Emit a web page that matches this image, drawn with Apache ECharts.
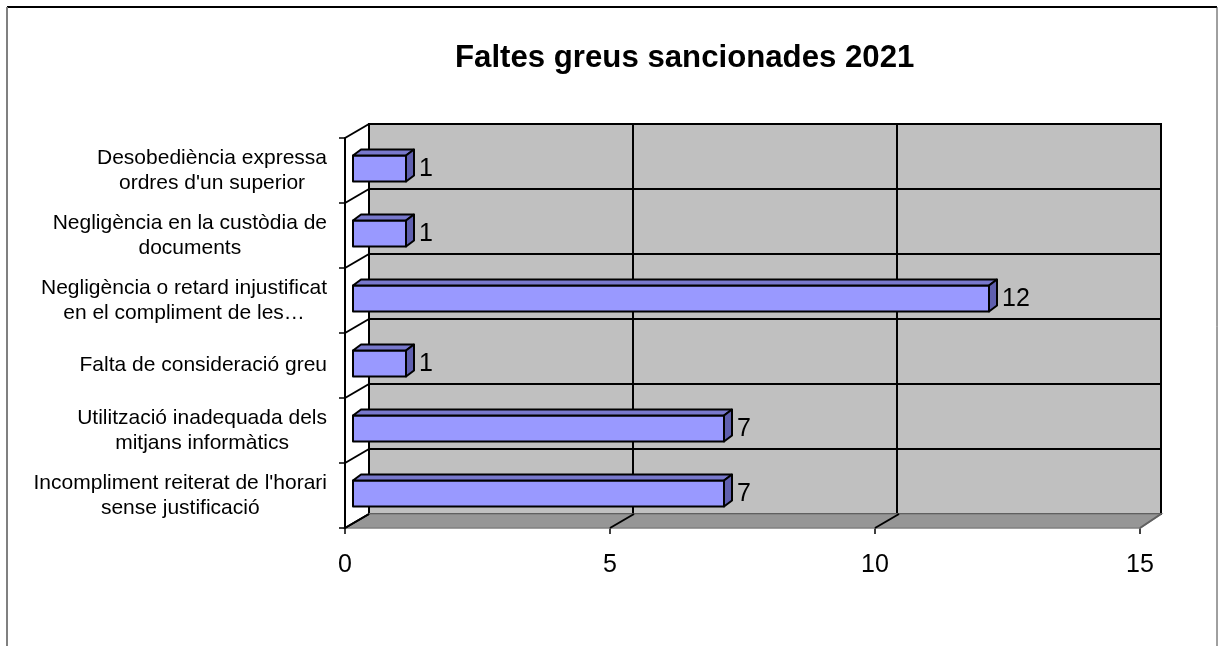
<!DOCTYPE html>
<html>
<head>
<meta charset="utf-8">
<script src="https://cdn.jsdelivr.net/npm/echarts@6/dist/echarts.min.js"></script>
<style>
  html, body { margin: 0; padding: 0; background: #fff; }
  #chart { width: 1218px; height: 646px; }
</style>
</head>
<body>
<div id="chart"></div>
<script>
// categories from bottom to top (same order as the y axis)
const categories = [
  "Incompliment reiterat de l'horari\nsense justificació",
  'Utilització inadequada dels\nmitjans informàtics',
  'Falta de consideració greu',
  'Negligència o retard injustificat\nen el compliment de les…',
  'Negligència en la custòdia de\ndocuments',
  "Desobediència expressa\nordres d'un superior"
]
const values = [7, 7, 1, 12, 1, 1]
const xTicks = [0, 5, 10, 15]
const titleText = 'Faltes greus sancionades 2021'

const FONT = "'Liberation Sans', Arial, sans-serif"
// 3d depth of the back wall
const DX = 24
const DY = -14

const chart = echarts.init(document.getElementById('chart'))

// floor, side edges of the box
function renderBox (params, api) {
  const r = params.coordSys
  const band = api.size([0, 1])[1]
  const children = []
  const bottom = r.y + r.height
  // floor
  children.push({
    type: 'polygon',
    shape: { points: [[r.x, bottom], [r.x + r.width, bottom], [r.x + r.width + DX - 3, bottom + DY], [r.x + DX, bottom + DY]] },
    style: { fill: '#969696', stroke: '#808080', lineWidth: 1.5 }
  })
  // floor diagonals at x ticks
  xTicks.forEach(t => {
    const x = api.coord([t, 0])[0]
    const last = t === xTicks[xTicks.length - 1]
    children.push({
      type: 'line',
      shape: { x1: x, y1: bottom, x2: x + DX - (last ? 3 : 0), y2: bottom + DY },
      style: { stroke: last ? '#606060' : '#000', lineWidth: 2 }
    })
  })
  // side diagonals at category boundaries
  for (let k = 0; k <= categories.length; k++) {
    const y = r.y + k * band
    children.push({
      type: 'line',
      shape: { x1: r.x, y1: y, x2: r.x + DX, y2: y + DY },
      style: { stroke: '#000', lineWidth: 2 }
    })
  }
  return { type: 'group', children }
}

// 3d bars, standing in the middle of the depth
function renderBar (params, api) {
  const start = api.coord([0, api.value(1)])
  const end = api.coord([api.value(0), api.value(1)])
  const band = api.size([0, 1])[1]
  const h = band * 0.4
  const dx = 8
  const dy = -6
  const x0 = start[0] + dx
  const x1 = end[0] + dx
  const yc = start[1] - 2
  const yt = yc - h / 2
  const yb = yc + h / 2
  const line = { stroke: '#000', lineWidth: 2, lineJoin: 'round' }
  return {
    type: 'group',
    children: [
      { type: 'rect', shape: { x: x0, y: yt, width: x1 - x0, height: h }, style: Object.assign({ fill: '#9999ff' }, line) },
      { type: 'polygon', shape: { points: [[x0, yt], [x1, yt], [x1 + dx, yt + dy], [x0 + dx, yt + dy]] }, style: Object.assign({ fill: '#7878cc' }, line) },
      { type: 'polygon', shape: { points: [[x1, yt], [x1 + dx, yt + dy], [x1 + dx, yb + dy], [x1, yb]] }, style: Object.assign({ fill: '#5f5fae' }, line) },
      {
        type: 'text',
        style: {
          x: x1 + dx + 5,
          y: yc + 1,
          text: String(api.value(0)),
          fill: '#000',
          font: '25px ' + FONT,
          textAlign: 'left',
          textVerticalAlign: 'middle'
        }
      }
    ]
  }
}

const options = {
  backgroundColor: '#fff',
  animation: false,
  title: {
    text: titleText,
    left: 450,
    top: 38,
    textStyle: { fontFamily: FONT, fontSize: 31.2, fontWeight: 'bold', color: '#000' }
  },
  graphic: [
    { type: 'line', shape: { x1: 7, y1: 7, x2: 1217, y2: 7 }, style: { stroke: '#000', lineWidth: 2 } },
    { type: 'line', shape: { x1: 7, y1: 7, x2: 7, y2: 646 }, style: { stroke: '#808080', lineWidth: 2 } },
    { type: 'line', shape: { x1: 1217, y1: 7, x2: 1217, y2: 646 }, style: { stroke: '#404040', lineWidth: 1 } }
  ],
  grid: [
    // back wall
    { left: 369, top: 124, width: 792, height: 390, show: true, backgroundColor: '#c0c0c0', borderColor: '#000', borderWidth: 2 },
    // front plane
    { left: 345, top: 138, width: 795, height: 390 }
  ],
  xAxis: [
    {
      gridIndex: 0, type: 'value', min: 0, max: 15, interval: 5,
      axisLine: { show: false }, axisTick: { show: false }, axisLabel: { show: false },
      splitLine: { lineStyle: { color: '#000', width: 2 } }
    },
    {
      gridIndex: 1, type: 'value', min: 0, max: 15, interval: 5,
      axisLine: { show: false },
      axisTick: { show: true, length: 6, lineStyle: { color: '#000', width: 1.5 } },
      axisLabel: { margin: 25, fontFamily: FONT, fontSize: 25, color: '#000' },
      splitLine: { show: false }
    }
  ],
  yAxis: [
    {
      gridIndex: 0, type: 'category', data: categories,
      axisLine: { show: false }, axisTick: { show: false }, axisLabel: { show: false },
      splitLine: { show: true, lineStyle: { color: '#000', width: 2 } }
    },
    {
      gridIndex: 1, type: 'category', data: categories, z: 5,
      axisLine: { show: true, lineStyle: { color: '#000', width: 2 } },
      axisTick: { show: true, inside: false, length: 6, lineStyle: { color: '#000', width: 1.5 } },
      axisLabel: {
        margin: 18,
        align: 'right',
        color: '#000',
        formatter: v => v.split('\n').map(s => '{c|' + s + '}').join('\n'),
        rich: { c: { fontFamily: FONT, fontSize: 21, lineHeight: 25, align: 'center', color: '#000' } }
      }
    }
  ],
  series: [
    {
      type: 'custom',
      name: 'box',
      xAxisIndex: 1,
      yAxisIndex: 1,
      z: 1,
      silent: true,
      data: [[0, 0]],
      renderItem: renderBox
    },
    {
      type: 'custom',
      name: 'Faltes',
      xAxisIndex: 1,
      yAxisIndex: 1,
      z: 3,
      data: values.map((v, i) => [v, i]),
      encode: { x: 0, y: 1 },
      renderItem: renderBar
    }
  ]
}

chart.setOption(options)
</script>
</body>
</html>
